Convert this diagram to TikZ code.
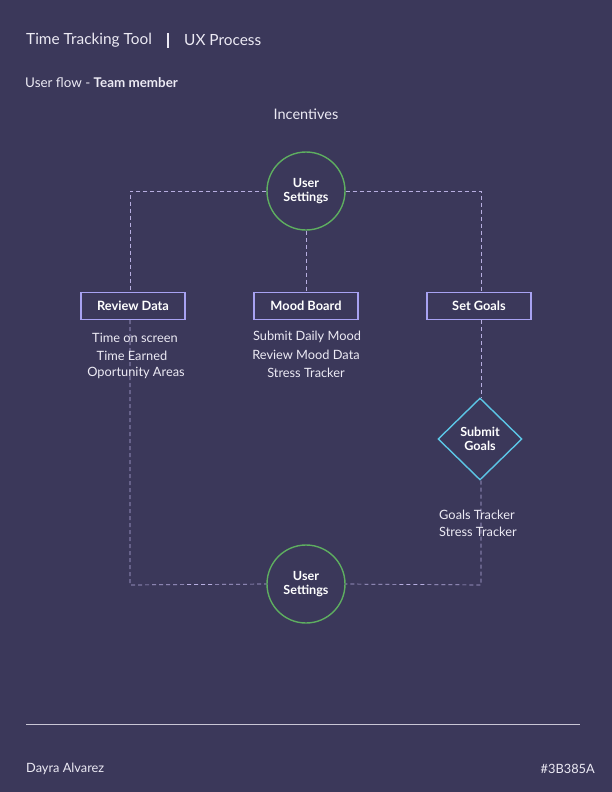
\documentclass[tikz,border=0pt]{standalone}
\usepackage{fontspec}
\setmainfont{Lato}
\usepackage{tikz}
\usetikzlibrary{shapes, arrows}

\definecolor{bgpurple}{HTML}{3B385A}
\definecolor{txtlight}{HTML}{ECEAF4}
\definecolor{flowline}{HTML}{B7AEE0}
\definecolor{boxline}{HTML}{A8A2F2}
\definecolor{ringgreen}{HTML}{5EAE60}
\definecolor{goalcyan}{HTML}{5CC6E6}

\tikzset{
	txt/.style={text=txtlight, inner sep=0pt, font=\fontsize{12.8}{14}\selectfont},
	ring/.style={draw=ringgreen, line width=1.4pt, circle, minimum size=78pt, fill=bgpurple,
		text=white, align=center, font=\fontsize{12.6}{13.5}\selectfont\bfseries},
	screen/.style={draw=boxline, line width=1.4pt, rectangle, minimum width=104pt, minimum height=27pt,
		fill=bgpurple, text=white, font=\fontsize{12.8}{14}\selectfont\bfseries},
	goal/.style={draw=goalcyan, line width=1.4pt, diamond, minimum width=84pt, minimum height=82pt,
		inner sep=0pt, fill=bgpurple, text=white, align=center, font=\fontsize{12.6}{13.5}\selectfont\bfseries},
	flow/.style={draw=flowline, dashed, dash pattern=on 4pt off 3pt, line width=0.7pt},
}

\begin{document}
\begin{tikzpicture}[x=1pt, y=-1pt]
	\fill[bgpurple] (0,0) rectangle (612,792);
	\useasboundingbox (0,0) rectangle (612,792);
	% header
	\node[txt, anchor=west, font=\fontsize{15.4}{17}\selectfont] (tool) at (26,40) {Time Tracking Tool};
	\draw[txtlight, line width=1.6pt] (168,33) -- (168,48);
	\node[txt, anchor=west, font=\fontsize{15.4}{17}\selectfont] (ux) at (184,40) {UX Process};
	\node[txt, anchor=west, font=\fontsize{13.4}{15}\selectfont] (flowname) at (25,83) {User flow - \textbf{Team member}};
	\node[txt, font=\fontsize{14.5}{16}\selectfont] (inc) at (306,114) {Incentives};
	% nodes
	\node[ring] (us1) at (306,191) {User\\Settings};
	\node[ring] (us2) at (306,584) {User\\Settings};
	\node[screen] (rd) at (133,306) {Review Data};
	\node[screen] (mb) at (306,306) {Mood Board};
	\node[screen] (sg) at (479,306) {Set Goals};
	\node[goal] (sub) at (480,439) {Submit\\Goals};
	\coordinate (bl) at (130,585);
	\coordinate (br) at (481,585);
	% connectors
	\draw[flow] (us1.west) -| (rd.north -| bl);
	\draw[flow] (rd.south -| bl) -- (bl) -- (us2.west);
	\draw[flow] (us1.east) -| (sg.north -| br);
	\draw[flow] (sg.south -| br) -- (sub.north -| br);
	\draw[flow] (sub.south -| br) -- (br) -- (us2.east);
	\draw[flow] (us1.south) -- (mb.north);
	% notes
	\node[txt] (rdnote) at (135,338) {Time on screen};
	\node[txt] (rdnote2) at (132,356) {Time Earned};
	\node[txt] (rdnote3) at (136,373) {Oportunity Areas};
	\node[txt] (mbnote) at (307,337) {Submit Daily Mood};
	\node[txt] (mbnote2) at (306,355) {Review Mood Data};
	\node[txt] (mbnote3) at (306,373) {Stress Tracker};
	\node[txt, anchor=west] (sgnote) at (439,515) {Goals Tracker};
	\node[txt, anchor=west] (sgnote2) at (439,532) {Stress Tracker};
	% footer
	\draw[txtlight!80!bgpurple, line width=0.8pt] (26,724) -- (580,724);
	\node[txt, anchor=west] (author) at (26,769) {Dayra Alvarez};
	\node[txt, anchor=east] (hex) at (595,769) {\#3B385A};
\end{tikzpicture}
\end{document}
